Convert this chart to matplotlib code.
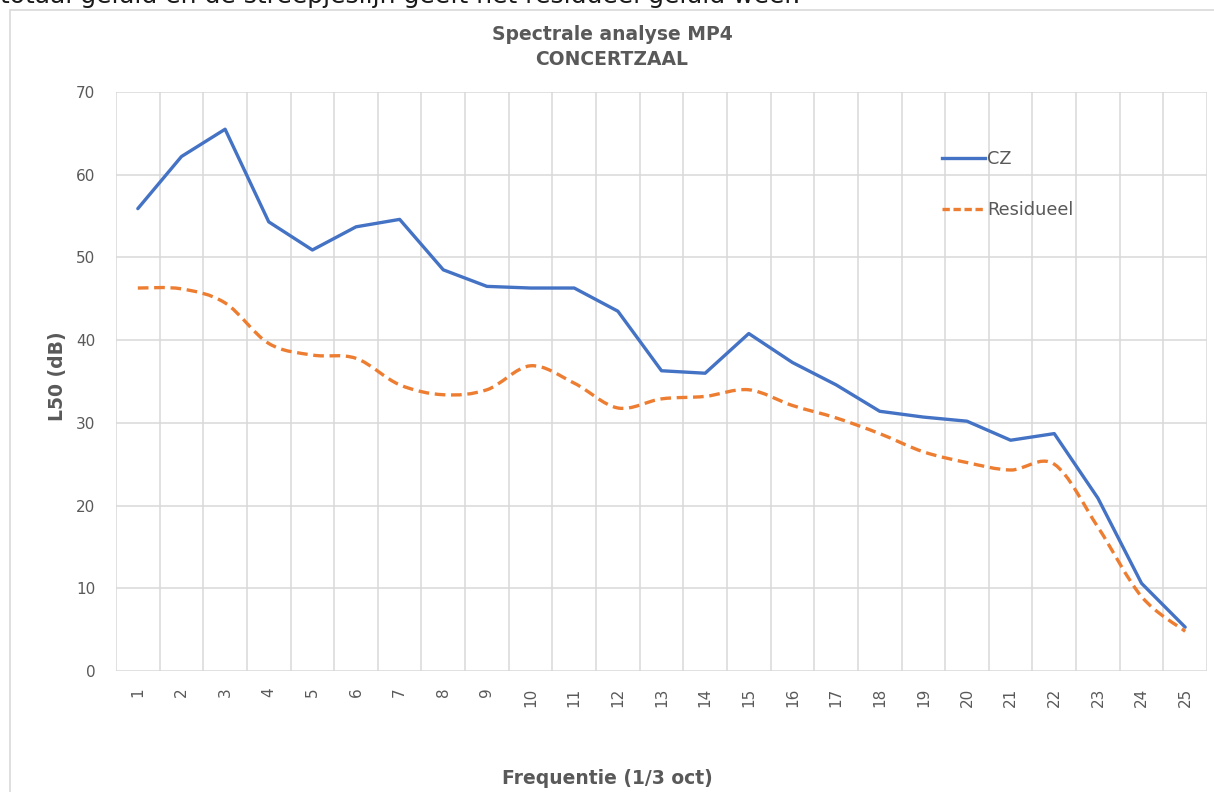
import matplotlib
matplotlib.use("Agg")
import matplotlib.pyplot as plt
from matplotlib.path import Path
from matplotlib.patches import PathPatch, Rectangle
from matplotlib.lines import Line2D
import numpy as np

# ---- data ----
categories = list(range(1, 26))
cz = [55.9, 62.2, 65.5, 54.3, 50.9, 53.7, 54.6, 48.5, 46.5, 46.3, 46.3, 43.5, 36.3,
      36.0, 40.8, 37.3, 34.6, 31.4, 30.7, 30.2, 27.9, 28.7, 20.9, 10.6, 5.3]
residueel = [46.3, 46.2, 44.5, 39.6, 38.2, 37.8, 34.6, 33.4, 34.0, 36.9, 34.8, 31.8, 32.9,
             33.2, 34.0, 32.1, 30.6, 28.7, 26.5, 25.2, 24.3, 25.0, 17.4, 9.0, 4.8]
yticks = [0, 10, 20, 30, 40, 50, 60, 70]
title = "Spectrale analyse MP4\nCONCERTZAAL"
xlabel = "Frequentie (1/3 oct)"
ylabel = "L50 (dB)"
top_text = "totaal geluid en de streepjeslijn geeft het residueel geluid weer."

W, H = 1214, 792
BLUE = "#4472C4"
ORANGE = "#ED7D31"
GRID = "#D9D9D9"
TXT = "#595959"

fig = plt.figure(figsize=(W / 100, H / 100), dpi=100)
fig.patch.set_facecolor("white")

# chart border
fig.add_artist(Rectangle((10 / W, -0.02), 1.2, (H - 10) / H + 0.02,
                         transform=fig.transFigure, fill=False, ec=GRID, lw=1.2))
# text above the chart, cut off by the top edge as in the reference
fig.text(0.0, 1 - 3 / H, top_text, fontsize=18, color="#1a1a1a", va="baseline", ha="left",
         family="DejaVu Sans")

left, right, top, bottom = 116, 1207, 92, 671
ax = fig.add_axes([left / W, 1 - bottom / H, (right - left) / W, (bottom - top) / H])

x = np.array(categories, dtype=float)
ax.plot(x, cz, color=BLUE, lw=2.4, solid_joinstyle="round", solid_capstyle="round", zorder=3)

# smoothed dashed line (Excel-style smoothing via cubic Bezier segments)
y = np.array(residueel, dtype=float)
pts = np.column_stack([x, y])
verts = [tuple(pts[0])]
codes = [Path.MOVETO]
n = len(pts)
for i in range(n - 1):
    p0 = pts[i - 1] if i > 0 else pts[i]
    p1 = pts[i]
    p2 = pts[i + 1]
    p3 = pts[i + 2] if i + 2 < n else pts[i + 1]
    c1 = p1 + (p2 - p0) / 6.0
    c2 = p2 - (p3 - p1) / 6.0
    verts += [tuple(c1), tuple(c2), tuple(p2)]
    codes += [Path.CURVE4] * 3
patch = PathPatch(Path(verts, codes), fill=False, ec=ORANGE, lw=2.4,
                  linestyle=(0, (3.2, 1.7)), zorder=3)
patch.set_capstyle("butt")
ax.add_patch(patch)

ax.set_xlim(0.5, 25.5)
ax.set_ylim(0, 70)
ax.set_yticks(yticks)
ax.set_xticks(categories)
ax.set_xticks(np.arange(0.5, 26, 1.0), minor=True)
ax.set_xticklabels([str(c) for c in categories], rotation=90)
ax.tick_params(axis="both", which="both", length=0, colors=TXT, labelsize=11)
ax.tick_params(axis="x", which="major", pad=12)
ax.tick_params(axis="y", pad=15)
ax.grid(True, axis="y", which="major", color=GRID, lw=1.1)
ax.grid(True, axis="x", which="minor", color=GRID, lw=1.1)
ax.grid(False, axis="x", which="major")
for s in ax.spines.values():
    s.set_visible(False)
ax.set_axisbelow(True)

fig.text(612 / W, 1 - 47 / H, title, ha="center", va="center", fontsize=13.5,
         fontweight="bold", color=TXT, linespacing=1.35)
fig.text(607 / W, 1 - 779 / H, xlabel, ha="center", va="center", fontsize=13.5,
         fontweight="bold", color=TXT)
fig.text(58 / W, 1 - 376 / H, ylabel, ha="center", va="center", fontsize=13.5,
         fontweight="bold", color=TXT, rotation=90)

handles = [Line2D([], [], color=BLUE, lw=2.4),
           Line2D([], [], color=ORANGE, lw=2.4, linestyle=(0, (2.2, 1.1)))]
leg = ax.legend(handles, ["CZ", "Residueel"], loc="upper left",
                bbox_to_anchor=((942 - left) / (right - left), (bottom - 150) / (bottom - top)),
                frameon=False, fontsize=12.8, handlelength=2.4, handletextpad=0.15,
                labelspacing=1.85, borderpad=0, borderaxespad=0)
for t in leg.get_texts():
    t.set_color(TXT)

fig.savefig("out.png", dpi=100, facecolor="white")
